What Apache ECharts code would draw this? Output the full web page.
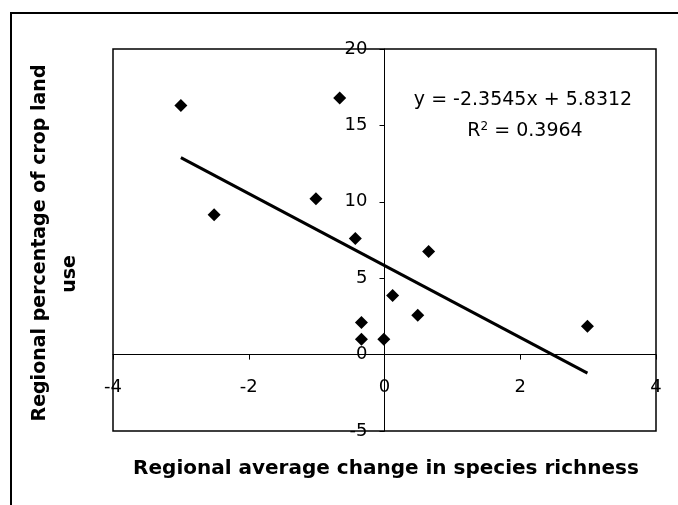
<!DOCTYPE html>
<html>
<head>
<meta charset="utf-8">
<title>crop land vs species richness</title>
<script src="https://cdn.jsdelivr.net/npm/echarts@6/dist/echarts.min.js"></script>
<style>
  * { margin: 0; padding: 0; }
  body { background: #fff; }
  #main { width: 678px; height: 505px; }
</style>
</head>
<body>
<div id="main"></div>
<script>
  // data
  const changeRichness = [-3.0, -2.51, -1.01, -0.66, -0.43, -0.34, -0.34, -0.01, 0.12, 0.49, 0.65, 2.99];
  const cropLandPct = [16.3, 9.15, 10.2, 16.8, 7.6, 2.1, 1.0, 1.0, 3.86, 2.57, 6.75, 1.85];
  const xTicks = [-4, -2, 0, 2, 4];
  const yTicks = [-5, 0, 5, 10, 15, 20];
  // linear trend as printed on the chart
  const trendSlope = -2.3545;
  const trendIntercept = 5.8312;
  const trendR2 = 0.3964;

  const points = changeRichness.map((x, i) => [x, cropLandPct[i]]);
  const xMin = Math.min(...changeRichness), xMax = Math.max(...changeRichness);
  const trendLine = [xMin, xMax].map(x => [x, trendSlope * x + trendIntercept]);

  // plot box in pixels
  const gridLeft = 113, gridRight = 22, gridTop = 49, gridBottom = 74;
  const plotW = 678 - gridLeft - gridRight;
  const plotH = 505 - gridTop - gridBottom;
  // axes cross at the origin: shift them in from the grid edge
  const xAxisShift = plotH * (0 - yTicks[0]) / (yTicks[yTicks.length - 1] - yTicks[0]);
  const yAxisShift = plotW * (0 - xTicks[0]) / (xTicks[xTicks.length - 1] - xTicks[0]);

  const font = '"DejaVu Sans", sans-serif';
  const chart = echarts.init(document.getElementById('main'));
  chart.setOption({
    animation: false,
    backgroundColor: '#fff',
    grid: {
      left: gridLeft, right: gridRight, top: gridTop, bottom: gridBottom,
      show: true,
      borderColor: '#000',
      borderWidth: 1.5
    },
    xAxis: {
      type: 'value',
      min: xTicks[0], max: xTicks[xTicks.length - 1], interval: 2,
      offset: -xAxisShift,
      axisLine: { onZero: false, lineStyle: { color: '#000', width: 1 } },
      axisTick: { length: 5, lineStyle: { color: '#000' } },
      axisLabel: { color: '#000', fontFamily: font, fontSize: 18, margin: 24 },
      splitLine: { show: false }
    },
    yAxis: {
      type: 'value',
      min: yTicks[0], max: yTicks[yTicks.length - 1], interval: 5,
      offset: -yAxisShift,
      axisLine: { onZero: false, lineStyle: { color: '#000', width: 1 } },
      axisTick: { length: 5, lineStyle: { color: '#000' } },
      axisLabel: { color: '#000', fontFamily: font, fontSize: 18, margin: 17 },
      splitLine: { show: false }
    },
    series: [
      {
        type: 'scatter',
        data: points,
        symbol: 'diamond',
        symbolSize: 13,
        itemStyle: { color: '#000', opacity: 1 }
      },
      {
        type: 'line',
        data: trendLine,
        symbol: 'none',
        lineStyle: { color: '#000', width: 3 }
      }
    ],
    graphic: [
      // outer frame (only top and left edge visible)
      {
        type: 'polyline',
        shape: { points: [[11, 505], [11, 13], [678, 13]] },
        style: { stroke: '#000', lineWidth: 2, fill: null }
      },
      {
        type: 'text', x: 523, y: 100,
        style: {
          text: 'y = ' + trendSlope + 'x + ' + trendIntercept,
          font: '19px ' + font, fill: '#000',
          textAlign: 'center', textVerticalAlign: 'middle'
        }
      },
      {
        type: 'text', x: 525, y: 131,
        style: {
          text: '{r|R}{sup|2}{r| = ' + trendR2 + '}',
          fill: '#000',
          textAlign: 'center', textVerticalAlign: 'middle',
          rich: {
            r: { fontFamily: font, fontSize: 19, color: '#000' },
            sup: { fontFamily: font, fontSize: 12, color: '#000', verticalAlign: 'top', padding: [0, 0, 8, 0] }
          }
        }
      },
      // axis titles
      {
        type: 'text', x: 386, y: 469,
        style: {
          text: 'Regional average change in species richness',
          font: 'bold 20px ' + font, fill: '#000',
          textAlign: 'center', textVerticalAlign: 'middle'
        }
      },
      {
        type: 'text', x: 40, y: 243, rotation: Math.PI / 2,
        style: {
          text: 'Regional percentage of crop land',
          font: 'bold 19px ' + font, fill: '#000',
          textAlign: 'center', textVerticalAlign: 'middle'
        }
      },
      {
        type: 'text', x: 70, y: 274, rotation: Math.PI / 2,
        style: {
          text: 'use',
          font: 'bold 19px ' + font, fill: '#000',
          textAlign: 'center', textVerticalAlign: 'middle'
        }
      }
    ]
  });
</script>
</body>
</html>
